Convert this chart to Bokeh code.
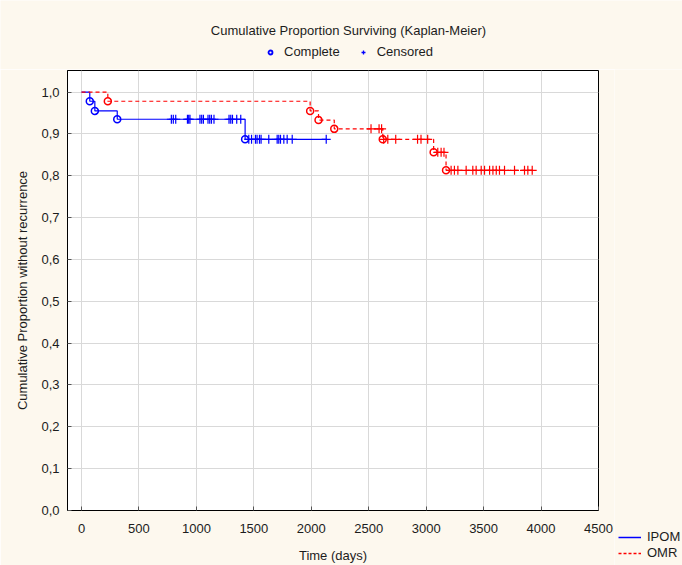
from bokeh.plotting import figure
from bokeh.layouts import column, row
from bokeh.models import (Range1d, FixedTicker, CustomJSTickFormatter,
                          Legend, LegendItem, Label)
from bokeh.embed import file_html
from bokeh.resources import INLINE

# ---------------- data ----------------
title_text = "Cumulative Proportion Surviving (Kaplan-Meier)"
x_label = "Time (days)"
y_label = "Cumulative Proportion without recurrence"
x_ticks = [0, 500, 1000, 1500, 2000, 2500, 3000, 3500, 4000, 4500]
y_ticks = [0.0, 0.1, 0.2, 0.3, 0.4, 0.5, 0.6, 0.7, 0.8, 0.9, 1.0]

ipom_event_days = [0, 72, 116, 311, 1424]
ipom_survival = [1.0, 0.978, 0.955, 0.935, 0.887]
ipom_last_day = 2130
ipom_censored_days = [782, 799, 820, 922, 933, 944, 1031, 1046, 1061, 1101,
                      1116, 1131, 1153, 1284, 1299, 1314, 1351, 1386,
                      1456, 1480, 1514, 1528, 1549, 1563, 1630, 1703, 1717,
                      1732, 1761, 1790, 1834, 2130]

omr_event_days = [0, 229, 1990, 2063, 2200, 2622, 3065, 3173]
omr_survival = [1.0, 0.978, 0.955, 0.933, 0.912, 0.887, 0.856, 0.813]
omr_last_day = 3923
omr_censored_days = [2520, 2590, 2612, 2630, 2666, 2735, 2925, 2955, 3013,
                     3101, 3130, 3155, 3217, 3246, 3276, 3348, 3406, 3435,
                     3479, 3508, 3552, 3581, 3610, 3638, 3682, 3769, 3856,
                     3885, 3923]

series_names = ["IPOM", "OMR"]
marker_names = ["Complete", "Censored"]

BLUE = "#0000ff"
RED = "#ff0000"
TXT = "#1c1c1c"
BG = "#fdf8ee"
FONT = "Liberation Sans"


def km_value(days, surv, d):
    v = surv[0]
    for t, s in zip(days, surv):
        if t <= d:
            v = s
    return v


ipom_x = ipom_event_days + [ipom_last_day]
ipom_y = ipom_survival + [ipom_survival[-1]]
ipom_cens_y = [km_value(ipom_event_days, ipom_survival, d) for d in ipom_censored_days]
omr_x = omr_event_days + [omr_last_day]
omr_y = omr_survival + [omr_survival[-1]]
omr_cens_y = [km_value(omr_event_days, omr_survival, d) for d in omr_censored_days]


def bare_figure(w, h):
    # key-only panel: its ranges sit left of every day value, so only legend swatches show
    f = figure(width=w, height=h, output_backend="svg", toolbar_location=None,
               x_axis_location=None, y_axis_location=None, min_border=0,
               x_range=Range1d(-2, -1), y_range=Range1d(0, 1))
    f.grid.visible = False
    f.outline_line_color = None
    f.background_fill_color = BG
    f.border_fill_color = BG
    return f


# ---------------- header (title + marker key) ----------------
top = bare_figure(682, 69)
top.add_layout(Label(x=348, y=39, x_units="screen", y_units="screen", text=title_text,
                     text_font=FONT, text_font_size="13px", text_color=TXT,
                     text_align="center", text_baseline="middle"))
k_c = top.scatter(ipom_event_days[1:], ipom_survival[1:], marker="circle", size=6,
                  line_color=BLUE, fill_color=None, line_width=1.8)
k_x = top.scatter(ipom_censored_days, ipom_cens_y, marker="cross", size=9,
                  line_color=BLUE, line_width=1.3)
top.add_layout(Legend(items=[LegendItem(label=marker_names[0], renderers=[k_c]),
                             LegendItem(label=marker_names[1], renderers=[k_x])],
                      location=(265, 10), orientation="horizontal",
                      background_fill_alpha=0, border_line_color=None,
                      padding=0, margin=0, spacing=18, glyph_width=10,
                      glyph_height=14, label_height=14, label_standoff=9,
                      label_text_font=FONT, label_text_font_size="13px",
                      label_text_color=TXT))

# ---------------- main plot ----------------
p = figure(width=614, height=496, output_backend="svg", toolbar_location=None,
           x_range=Range1d(-122, 4500), y_range=Range1d(0, 1.0515),
           min_border_left=67, min_border_right=16, min_border_top=1,
           min_border_bottom=53)
p.border_fill_color = BG
p.background_fill_color = "white"
p.outline_line_color = "black"
p.outline_line_width = 1

p.xaxis.ticker = FixedTicker(ticks=x_ticks)
p.yaxis.ticker = FixedTicker(ticks=y_ticks)
p.yaxis.formatter = CustomJSTickFormatter(code="return tick.toFixed(1).replace('.', ',');")
for ax in (p.xaxis[0], p.yaxis[0]):
    ax.major_tick_in = 4
    ax.major_tick_out = 0
    ax.minor_tick_line_color = None
    ax.axis_line_color = "black"
    ax.major_tick_line_color = "#555555"
    ax.major_label_text_font = FONT
    ax.major_label_text_font_size = "13px"
    ax.major_label_text_color = TXT
    ax.axis_label_text_font = FONT
    ax.axis_label_text_font_size = "13px"
    ax.axis_label_text_font_style = "normal"
    ax.axis_label_text_color = TXT
p.xaxis.axis_label = x_label
p.yaxis.axis_label = y_label
p.xaxis.major_label_standoff = 13
p.xaxis.axis_label_standoff = 12
p.yaxis.major_label_standoff = 8
p.yaxis.axis_label_standoff = 8

p.grid.grid_line_color = "#d9d9d9"
p.grid.grid_line_width = 1

# IPOM curve
p.step(ipom_x, ipom_y, mode="after", line_color=BLUE, line_width=1.2)
p.scatter(ipom_event_days[1:], ipom_survival[1:], marker="circle", size=7,
          line_color=BLUE, fill_color=None, line_width=1.5)
p.scatter(ipom_censored_days, ipom_cens_y, marker="cross", size=9,
          line_color=BLUE, line_width=1.2)

# OMR curve
p.step(omr_x, omr_y, mode="after", line_color=RED, line_width=1.2, line_dash="4 3")
p.scatter(omr_event_days[1:], omr_survival[1:], marker="circle", size=7,
          line_color=RED, fill_color=None, line_width=1.5)
p.scatter(omr_censored_days, omr_cens_y, marker="cross", size=9,
          line_color=RED, line_width=1.2)

# ---------------- series key (bottom right) ----------------
side = bare_figure(68, 496)
s_ipom = side.line(ipom_x, ipom_y, line_color=BLUE, line_width=1.5)
s_omr = side.line(omr_x, omr_y, line_color=RED, line_width=1.5, line_dash="3 2")
side.add_layout(Legend(items=[LegendItem(label=series_names[0], renderers=[s_ipom]),
                              LegendItem(label=series_names[1], renderers=[s_omr])],
                       location=(4, 5), orientation="vertical",
                       background_fill_alpha=0, border_line_color=None,
                       padding=0, margin=0, spacing=1, glyph_width=23,
                       glyph_height=14, label_height=14, label_standoff=6,
                       label_text_font=FONT, label_text_font_size="13px",
                       label_text_color=TXT))

layout = column(top, row(p, column(side, spacing=0), spacing=0), spacing=0)
open("out.html", "w").write(file_html(layout, INLINE))
